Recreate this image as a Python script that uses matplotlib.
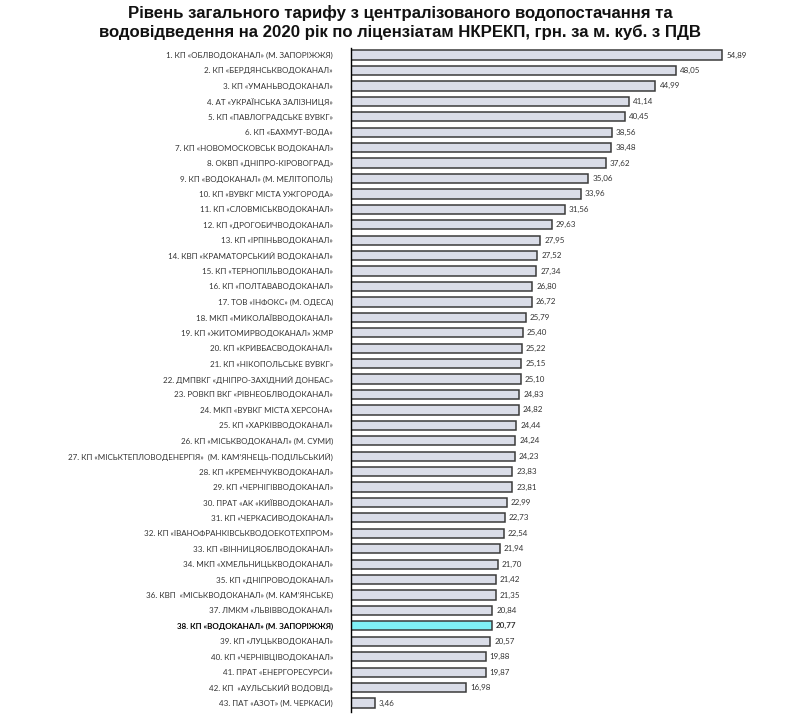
import matplotlib
matplotlib.use("Agg")
import matplotlib.pyplot as plt

# ------------------- Data -------------------
labels = [
    "1. КП «ОБЛВОДОКАНАЛ» (М. ЗАПОРІЖЖЯ)",
    "2. КП «БЕРДЯНСЬКВОДОКАНАЛ»",
    "3. КП «УМАНЬВОДОКАНАЛ»",
    "4. АТ «УКРАЇНСЬКА ЗАЛІЗНИЦЯ»",
    "5. КП «ПАВЛОГРАДСЬКЕ ВУВКГ»",
    "6. КП «БАХМУТ-ВОДА»",
    "7. КП «НОВОМОСКОВСЬК ВОДОКАНАЛ»",
    "8. ОКВП «ДНІПРО-КІРОВОГРАД»",
    "9. КП «ВОДОКАНАЛ» (М. МЕЛІТОПОЛЬ)",
    "10. КП «ВУВКГ МІСТА УЖГОРОДА»",
    "11. КП «СЛОВМІСЬКВОДОКАНАЛ»",
    "12. КП «ДРОГОБИЧВОДОКАНАЛ»",
    "13. КП «ІРПІНЬВОДОКАНАЛ»",
    "14. КВП «КРАМАТОРСЬКИЙ ВОДОКАНАЛ»",
    "15. КП «ТЕРНОПІЛЬВОДОКАНАЛ»",
    "16. КП «ПОЛТАВАВОДОКАНАЛ»",
    "17. ТОВ «ІНФОКС» (М. ОДЕСА)",
    "18. МКП «МИКОЛАЇВВОДОКАНАЛ»",
    "19. КП «ЖИТОМИРВОДОКАНАЛ» ЖМР",
    "20. КП «КРИВБАСВОДОКАНАЛ»",
    "21. КП «НІКОПОЛЬСЬКЕ ВУВКГ»",
    "22. ДМПВКГ «ДНІПРО-ЗАХІДНИЙ ДОНБАС»",
    "23. РОВКП ВКГ «РІВНЕОБЛВОДОКАНАЛ»",
    "24. МКП «ВУВКГ МІСТА ХЕРСОНА»",
    "25. КП «ХАРКІВВОДОКАНАЛ»",
    "26. КП «МІСЬКВОДОКАНАЛ» (М. СУМИ)",
    "27. КП «МІСЬКТЕПЛОВОДЕНЕРГІЯ»  (М. КАМ’ЯНЕЦЬ-ПОДІЛЬСЬКИЙ)",
    "28. КП «КРЕМЕНЧУКВОДОКАНАЛ»",
    "29. КП «ЧЕРНІГІВВОДОКАНАЛ»",
    "30. ПРАТ «АК «КИЇВВОДОКАНАЛ»",
    "31. КП «ЧЕРКАСИВОДОКАНАЛ»",
    "32. КП «ІВАНОФРАНКІВСЬКВОДОЕКОТЕХПРОМ»",
    "33. КП «ВІННИЦЯОБЛВОДОКАНАЛ»",
    "34. МКП «ХМЕЛЬНИЦЬКВОДОКАНАЛ»",
    "35. КП «ДНІПРОВОДОКАНАЛ»",
    "36. КВП  «МІСЬКВОДОКАНАЛ» (М. КАМ’ЯНСЬКЕ)",
    "37. ЛМКМ «ЛЬВІВВОДОКАНАЛ»",
    "38. КП «ВОДОКАНАЛ» (М. ЗАПОРІЖЖЯ)",
    "39. КП «ЛУЦЬКВОДОКАНАЛ»",
    "40. КП «ЧЕРНІВЦІВОДОКАНАЛ»",
    "41. ПРАТ «ЕНЕРГОРЕСУРСИ»",
    "42. КП  «АУЛЬСЬКИЙ ВОДОВІД»",
    "43. ПАТ «АЗОТ» (М. ЧЕРКАСИ)",
]
values = [
    54.89, 48.05, 44.99, 41.14, 40.45, 38.56, 38.48, 37.62, 35.06, 33.96,
    31.56, 29.63, 27.95, 27.52, 27.34, 26.80, 26.72, 25.79, 25.40, 25.22,
    25.15, 25.10, 24.83, 24.82, 24.44, 24.24, 24.23, 23.83, 23.81, 22.99,
    22.73, 22.54, 21.94, 21.70, 21.42, 21.35, 20.84, 20.77, 20.57, 19.88,
    19.87, 16.98, 3.46,
]
highlight = 37  # index of 38. КП «ВОДОКАНАЛ» (М. ЗАПОРІЖЖЯ)

title = ("Рівень загального тарифу з централізованого водопостачання та\n"
         "водовідведення на 2020 рік по ліцензіатам НКРЕКП, грн. за м. куб. з ПДВ")

# ------------------- Plot -------------------
fig = plt.figure(figsize=(8.09, 7.18), dpi=100)
ax = fig.add_axes([0.434, 0.008, 0.51, 0.925])

ypos = list(range(len(values)))
colors = ["#dadde8"] * len(values)
colors[highlight] = "#7ff0f5"
ax.barh(ypos, values, height=0.6, color=colors, edgecolor="#3a3a3a", linewidth=1.1)

for i, v in enumerate(values):
    ax.text(v + 0.6, i, f"{v:.2f}".replace(".", ","), va="center", ha="left",
            fontsize=5.8, family="Lato", color="#333333",
            fontweight="bold" if i == highlight else "normal")

ax.set_yticks(ypos)
ax.set_yticklabels(labels, fontsize=5.8, family="Lato", color="#333333")
ax.get_yticklabels()[highlight].set_fontweight("bold")
ax.get_yticklabels()[highlight].set_color("black")
ax.tick_params(axis="y", length=0, pad=13)
ax.set_xticks([])

ax.set_xlim(0, 61)
ax.set_ylim(42.6, -0.45)
for s in ["top", "right", "bottom"]:
    ax.spines[s].set_visible(False)
ax.spines["left"].set_color("black")
ax.spines["left"].set_linewidth(1.0)

fig.text(0.495, 0.993, title, ha="center", va="top", fontsize=12.1,
         fontweight="bold", family="Liberation Sans", color="#111111",
         linespacing=1.25)

fig.savefig("out.png", dpi=100)
